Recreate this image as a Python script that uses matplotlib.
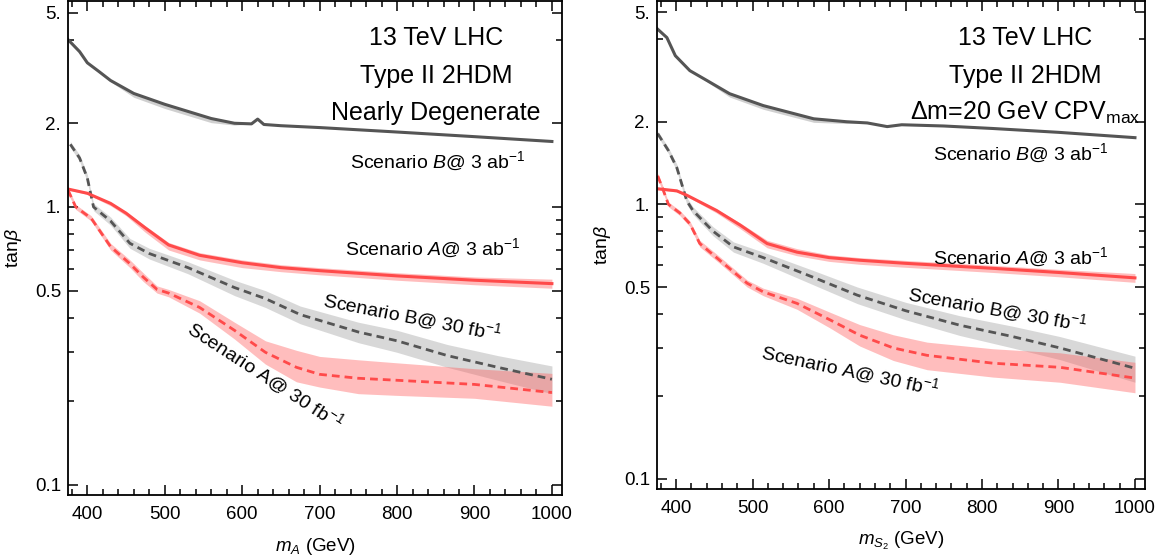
import numpy as np
import matplotlib
matplotlib.use("Agg")
import matplotlib.pyplot as plt
from matplotlib.ticker import FixedLocator, FixedFormatter, MultipleLocator

plt.rcParams['font.family'] = ['Liberation Sans', 'DejaVu Sans']
plt.rcParams['mathtext.fontset'] = 'custom'
plt.rcParams['mathtext.rm'] = 'Liberation Sans'
plt.rcParams['mathtext.it'] = 'Liberation Sans:italic'
plt.rcParams['mathtext.bf'] = 'Liberation Sans:bold'

# ---- datos panel izquierdo (casi degenerado) ----
x_b3_izq = [375, 390, 400, 415, 430, 460, 500, 560, 590, 612, 620, 628, 650, 700, 800, 900, 1000]
y_b3_izq = [4.0, 3.62, 3.3, 3.07, 2.85, 2.56, 2.34, 2.08, 2.0, 1.99, 2.07, 1.98, 1.96, 1.93, 1.86, 1.79, 1.72]
lo_b3_izq = [4.0, 3.62, 3.3, 3.07, 2.82, 2.48, 2.26, 2.01, 1.97, 1.99, 2.07, 1.98, 1.96, 1.93, 1.86, 1.79, 1.72]
hi_b3_izq = [4.0, 3.62, 3.3, 3.07, 2.85, 2.56, 2.34, 2.08, 2.0, 1.99, 2.07, 1.98, 1.96, 1.93, 1.86, 1.79, 1.72]

x_a3_izq = [375, 400, 430, 450, 475, 505, 545, 600, 650, 700, 800, 900, 1000]
y_a3_izq = [1.16, 1.12, 1.03, 0.95, 0.84, 0.73, 0.67, 0.63, 0.605, 0.59, 0.565, 0.545, 0.53]
lo_a3_izq = [1.15, 1.11, 1.01, 0.93, 0.81, 0.70, 0.645, 0.605, 0.585, 0.57, 0.545, 0.525, 0.51]
hi_a3_izq = [1.17, 1.13, 1.04, 0.96, 0.855, 0.745, 0.685, 0.645, 0.62, 0.605, 0.58, 0.56, 0.55]

x_b30_izq = [378, 390, 400, 408, 430, 455, 480, 530, 590, 630, 675, 750, 800, 865, 930, 1000]
y_b30_izq = [1.68, 1.5, 1.27, 1.0, 0.89, 0.74, 0.68, 0.605, 0.513, 0.468, 0.41, 0.355, 0.33, 0.292, 0.265, 0.24]
lo_b30_izq = [1.64, 1.46, 1.23, 0.97, 0.86, 0.71, 0.65, 0.575, 0.48, 0.435, 0.38, 0.325, 0.30, 0.265, 0.238, 0.213]
hi_b30_izq = [1.72, 1.54, 1.31, 1.03, 0.92, 0.77, 0.71, 0.635, 0.545, 0.50, 0.44, 0.385, 0.36, 0.32, 0.292, 0.268]

x_a30_izq = [375, 385, 405, 430, 455, 472, 490, 505, 545, 590, 630, 670, 700, 750, 800, 900, 1000]
y_a30_izq = [1.15, 1.0, 0.91, 0.72, 0.625, 0.56, 0.505, 0.49, 0.435, 0.36, 0.3, 0.265, 0.25, 0.242, 0.238, 0.23, 0.215]
lo_a30_izq = [1.12, 0.98, 0.89, 0.70, 0.605, 0.54, 0.49, 0.475, 0.415, 0.335, 0.272, 0.235, 0.225, 0.213, 0.21, 0.205, 0.192]
hi_a30_izq = [1.18, 1.02, 0.93, 0.74, 0.645, 0.58, 0.52, 0.505, 0.46, 0.385, 0.33, 0.305, 0.29, 0.282, 0.275, 0.262, 0.252]

# ---- datos panel derecho (Delta m = 20 GeV) ----
x_b3_der = [375, 388, 399, 418, 440, 470, 514, 580, 623, 650, 676, 695, 750, 814, 900, 1000]
y_b3_der = [4.37, 4.05, 3.48, 3.07, 2.83, 2.53, 2.29, 2.05, 2.0, 1.98, 1.92, 1.95, 1.93, 1.89, 1.83, 1.75]
lo_b3_der = [4.37, 4.05, 3.48, 3.07, 2.80, 2.46, 2.22, 1.99, 1.97, 1.98, 1.92, 1.95, 1.93, 1.89, 1.83, 1.75]
hi_b3_der = [4.37, 4.05, 3.48, 3.07, 2.83, 2.53, 2.29, 2.05, 2.0, 1.98, 1.92, 1.95, 1.93, 1.89, 1.83, 1.75]

x_a3_der = [376, 401, 414, 453, 484, 519, 558, 600, 640, 700, 814, 900, 1000]
y_a3_der = [1.14, 1.12, 1.08, 0.95, 0.84, 0.72, 0.67, 0.64, 0.626, 0.61, 0.585, 0.565, 0.54]
lo_a3_der = [1.13, 1.11, 1.07, 0.93, 0.815, 0.695, 0.65, 0.62, 0.605, 0.59, 0.565, 0.545, 0.52]
hi_a3_der = [1.15, 1.13, 1.09, 0.96, 0.855, 0.74, 0.69, 0.655, 0.64, 0.625, 0.6, 0.58, 0.56]

x_b30_der = [376, 390, 401, 414, 422, 448, 475, 514, 579, 637, 700, 771, 840, 902, 1000]
y_b30_der = [1.81, 1.57, 1.36, 1.03, 0.95, 0.80, 0.70, 0.64, 0.543, 0.467, 0.41, 0.363, 0.33, 0.30, 0.253]
lo_b30_der = [1.77, 1.53, 1.32, 1.0, 0.92, 0.77, 0.67, 0.61, 0.51, 0.435, 0.38, 0.333, 0.30, 0.272, 0.225]
hi_b30_der = [1.85, 1.61, 1.40, 1.06, 0.98, 0.83, 0.73, 0.67, 0.575, 0.50, 0.44, 0.393, 0.36, 0.33, 0.28]

x_a30_der = [376, 382, 390, 405, 418, 431, 457, 493, 514, 558, 601, 640, 684, 728, 814, 902, 1000]
y_a30_der = [1.27, 1.15, 1.0, 0.93, 0.85, 0.72, 0.626, 0.516, 0.48, 0.436, 0.38, 0.334, 0.30, 0.282, 0.264, 0.255, 0.233]
lo_a30_der = [1.24, 1.12, 0.98, 0.91, 0.83, 0.70, 0.61, 0.50, 0.465, 0.415, 0.355, 0.305, 0.27, 0.25, 0.235, 0.225, 0.206]
hi_a30_der = [1.30, 1.18, 1.02, 0.95, 0.87, 0.74, 0.645, 0.53, 0.495, 0.455, 0.405, 0.365, 0.335, 0.315, 0.298, 0.288, 0.266]

ticks_y = [0.1, 0.5, 1, 2, 5]
etiquetas_y = ["0.1", "0.5", "1.", "2.", "5."]
ticks_y_menores = [0.2, 0.3, 0.4, 0.6, 0.7, 0.8, 0.9, 4]

gris = '#555555'
rojo = '#ff4a4a'
banda_gris = '#8a8a8a'
banda_roja = '#ff5c5c'


def curva(ax, x, y, lo, hi, color, banda, discontinua=False, alfa=0.4):
    ax.fill_between(x, lo, hi, color=banda, alpha=alfa, lw=0)
    if discontinua:
        ax.plot(x, y, color=color, lw=2.0, dashes=(2.8, 1.8))
    else:
        ax.plot(x, y, color=color, lw=2.2)


def panel(ax, datos, xlabel):
    for x, y, lo, hi, color, banda, disc, alfa in datos:
        curva(ax, x, y, lo, hi, color, banda, disc, alfa)
    ax.set_yscale('log')
    ax.set_xlim(375, 1013)
    ax.set_ylim(0.092, 5.5)
    ax.yaxis.set_major_locator(FixedLocator(ticks_y))
    ax.yaxis.set_major_formatter(FixedFormatter(etiquetas_y))
    ax.yaxis.set_minor_locator(FixedLocator(ticks_y_menores))
    ax.yaxis.set_minor_formatter(FixedFormatter([""] * len(ticks_y_menores)))
    ax.xaxis.set_major_locator(MultipleLocator(100))
    ax.xaxis.set_minor_locator(MultipleLocator(20))
    ax.tick_params(which='both', direction='in', top=True, right=True, labelsize=13.5, width=1.1)
    ax.tick_params(which='major', length=7)
    ax.tick_params(which='minor', length=4)
    ax.tick_params(axis='x', which='major', pad=8)
    ax.tick_params(axis='y', which='major', pad=5)
    for s in ax.spines.values():
        s.set_linewidth(1.3)
    ax.set_xlabel(xlabel, fontsize=13.5, labelpad=9)
    ax.set_ylabel(r"tan$\beta$", fontsize=14, labelpad=8)


fig = plt.figure(figsize=(11.64, 5.6), dpi=100)
ax1 = fig.add_axes([0.0584, 0.116, 0.4244, 0.882])
ax2 = fig.add_axes([0.5644, 0.127, 0.4192, 0.871])

panel(ax1, [
    (x_b30_izq, y_b30_izq, lo_b30_izq, hi_b30_izq, gris, banda_gris, True, 0.33),
    (x_a30_izq, y_a30_izq, lo_a30_izq, hi_a30_izq, rojo, banda_roja, True, 0.4),
    (x_b3_izq, y_b3_izq, lo_b3_izq, hi_b3_izq, gris, banda_gris, False, 0.4),
    (x_a3_izq, y_a3_izq, lo_a3_izq, hi_a3_izq, rojo, banda_roja, False, 0.4),
], r"$m_A$ (GeV)")

panel(ax2, [
    (x_b30_der, y_b30_der, lo_b30_der, hi_b30_der, gris, banda_gris, True, 0.33),
    (x_a30_der, y_a30_der, lo_a30_der, hi_a30_der, rojo, banda_roja, True, 0.4),
    (x_b3_der, y_b3_der, lo_b3_der, hi_b3_der, gris, banda_gris, False, 0.4),
    (x_a3_der, y_a3_der, lo_a3_der, hi_a3_der, rojo, banda_roja, False, 0.4),
], r"$m_{S_2}$ (GeV)")

# titulos
for t, yy in zip(["13 TeV LHC", "Type II 2HDM", "Nearly Degenerate"], [0.925, 0.848, 0.773]):
    ax1.text(0.745, yy, t, transform=ax1.transAxes, ha='center', va='center', fontsize=18)
for t, yy in zip(["13 TeV LHC", "Type II 2HDM", r"$\Delta$m=20 GeV CPV$_{\mathrm{max}}$"], [0.924, 0.846, 0.770]):
    ax2.text(0.754, yy, t, transform=ax2.transAxes, ha='center', va='center', fontsize=18)

# etiquetas de curvas
fs = 14
ax1.text(852, 1.46, r"Scenario $B$@ 3 ab$^{-1}$", ha='center', va='center', fontsize=fs)
ax1.text(846, 0.707, r"Scenario $A$@ 3 ab$^{-1}$", ha='center', va='center', fontsize=fs)
ax1.text(819, 0.403, r"Scenario B@ 30 fb$^{-1}$", ha='center', va='center', fontsize=fs,
         rotation=-11, rotation_mode='anchor')
ax1.text(630, 0.248, r"Scenario A@ 30 fb$^{-1}$", ha='center', va='center', fontsize=fs,
         rotation=-33, rotation_mode='anchor')

ax2.text(851, 1.53, r"Scenario $B$@ 3 ab$^{-1}$", ha='center', va='center', fontsize=fs)
ax2.text(851, 0.642, r"Scenario $A$@ 3 ab$^{-1}$", ha='center', va='center', fontsize=fs)
ax2.text(820, 0.415, r"Scenario B@ 30 fb$^{-1}$", ha='center', va='center', fontsize=fs,
         rotation=-10, rotation_mode='anchor')
ax2.text(627, 0.249, r"Scenario A@ 30 fb$^{-1}$", ha='center', va='center', fontsize=fs,
         rotation=-12, rotation_mode='anchor')

fig.savefig("out.png", dpi=100)
